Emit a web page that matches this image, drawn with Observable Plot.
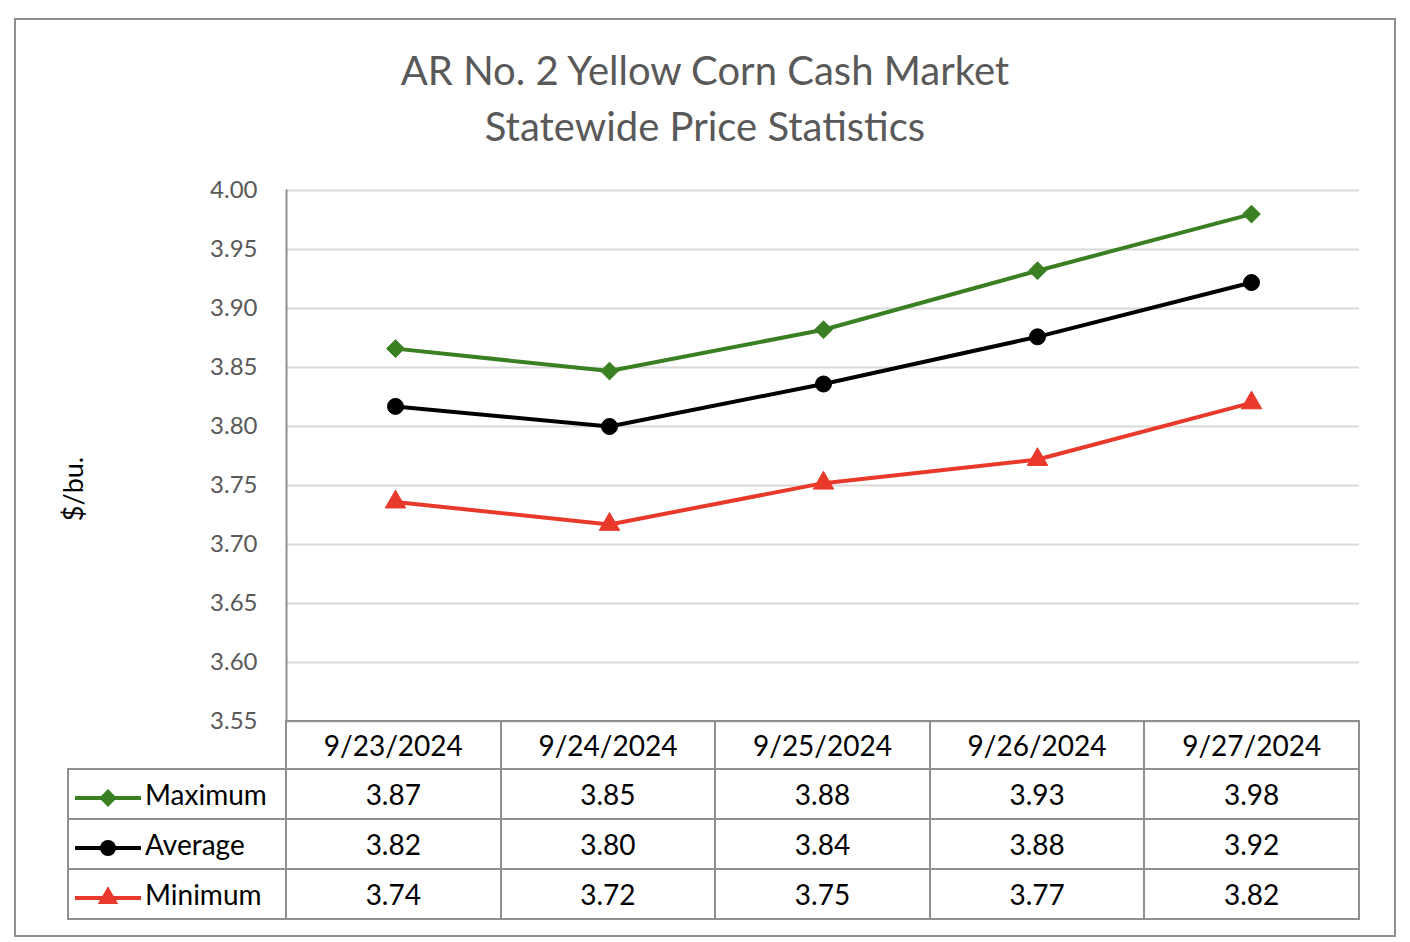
<!DOCTYPE html>
<html><head><meta charset="utf-8">
<script src="https://cdn.jsdelivr.net/npm/d3@7"></script>
<script src="https://cdn.jsdelivr.net/npm/@observablehq/plot@0.6"></script>
<style>
body{margin:0;background:#fff;font-family:Lato,"Open Sans",sans-serif;}
#wrap{position:relative;width:1410px;height:942px;overflow:hidden;}
#border{position:absolute;left:14px;top:18px;width:1378px;height:915px;border:2px solid #8f8f8f;box-sizing:content-box;}
#title{position:absolute;left:0;width:1410px;top:42px;text-align:center;color:#595959;font-size:40px;line-height:56px;}
#ylab{position:absolute;left:72px;top:489px;transform:translate(-50%,-50%) rotate(-90deg);font-size:27px;color:#000;white-space:nowrap;}
#chart{position:absolute;left:0;top:0;}
table{position:absolute;left:67px;top:720px;border-collapse:collapse;table-layout:fixed;}
td{border:2px solid #8f8f8f;text-align:center;font-size:28px;color:#000;padding:0;height:48px;}
tr.head td{height:46px;}
td.corner{border:none;}
td.leg{text-align:left;padding-left:6px;white-space:nowrap;}
td.leg svg{vertical-align:middle;margin-right:4px;}
</style></head><body><div id="wrap"><div id="border"></div><div id="title">AR No. 2 Yellow Corn Cash Market<br>Statewide Price Statistics</div><div id="ylab">$/bu.</div><div id="chart"></div></div>
<script>
const dates = ["9/23/2024","9/24/2024","9/25/2024","9/26/2024","9/27/2024"];
const maximum = [3.866,3.847,3.882,3.932,3.980];
const average = [3.817,3.800,3.836,3.876,3.922];
const minimum = [3.736,3.717,3.752,3.772,3.820];
const yTicks = [3.55,3.60,3.65,3.70,3.75,3.80,3.85,3.90,3.95,4.00];
const seriesNames = ["Maximum","Average","Minimum"];
const seriesValues = [maximum, average, minimum];
const colors = ["#3b7f23","#000000","#e8392b"];
const symbols = ["diamond2","circle","triangle"];
const radii = [8, 8, 7.6];

const rows = [];
seriesNames.forEach((s,i)=>dates.forEach((d,j)=>rows.push({series:s,date:d,value:seriesValues[i][j]})));

const marks = [
  Plot.gridY(yTicks,{stroke:"#d9d9d9",strokeOpacity:1,strokeWidth:2}),
  Plot.axisY(yTicks,{tickSize:0,tickPadding:29,fontSize:24,fill:"#595959",label:null,tickFormat:d=>d.toFixed(2)}),
  Plot.frame({anchor:"left",stroke:"#8f8f8f",strokeWidth:2})
];
seriesNames.forEach((s,i)=>{
  const data = rows.filter(r=>r.series===s);
  marks.push(Plot.line(data,{x:"date",y:"value",stroke:colors[i],strokeWidth:4}));
  marks.push(Plot.dot(data,{x:"date",y:"value",symbol:()=>symbols[i],r:radii[i],fill:colors[i],stroke:colors[i],strokeWidth:1}));
});

const chart = Plot.plot({
  width:1410,height:942,
  marginTop:190,marginBottom:221,marginLeft:286,marginRight:51,
  x:{type:"point",domain:dates,padding:0.5,axis:null},
  y:{domain:[3.55,4.0],axis:null},
  symbol:{type:"identity"},
  style:{background:"transparent",fontFamily:"Lato, sans-serif"},
  marks
});
document.getElementById("chart").appendChild(chart);

// data table
const colW = (1359-286)/dates.length;
const table = d3.select("#wrap").append("table");
const cg = table.append("colgroup");
cg.append("col").style("width",(286-68)+"px");
dates.forEach(()=>cg.append("col").style("width",colW+"px"));
const head = table.append("tr").attr("class","head");
head.append("td").attr("class","corner");
dates.forEach(d=>head.append("td").text(d));
seriesNames.forEach((s,i)=>{
  const tr = table.append("tr");
  const leg = tr.append("td").attr("class","leg");
  const svg = leg.append("svg").attr("width",66).attr("height",24);
  svg.append("line").attr("x1",0).attr("x2",66).attr("y1",12).attr("y2",12).attr("stroke",colors[i]).attr("stroke-width",4);
  const symType = [d3.symbolDiamond2,d3.symbolCircle,d3.symbolTriangle][i];
  svg.append("path").attr("transform","translate(33,12)").attr("d",d3.symbol(symType, Math.PI*radii[i]*radii[i])()).attr("fill",colors[i]);
  leg.append("span").text(s);
  seriesValues[i].forEach(v=>tr.append("td").text(v.toFixed(2)));
});
</script>
</body></html>
